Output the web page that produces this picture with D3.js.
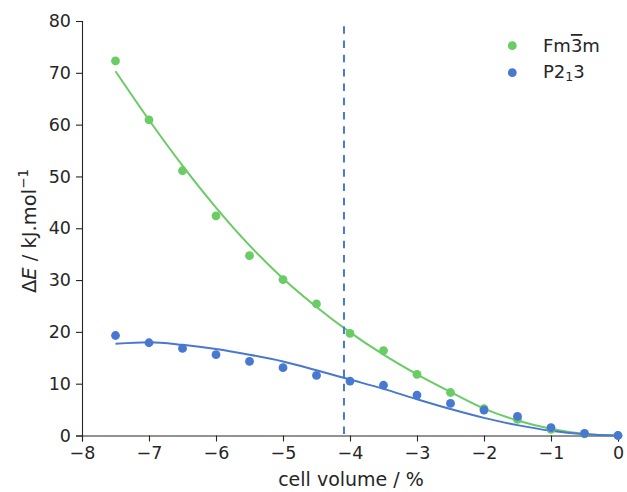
<!DOCTYPE html>
<html><head><meta charset="utf-8">
<script src="https://cdn.jsdelivr.net/npm/d3@7"></script>
<style>body{margin:0;background:#fff}svg{display:block}text{font-family:"DejaVu Sans",sans-serif;fill:#262626}</style>
</head><body><svg id="c" width="627" height="492"></svg>
<script>
const xVals = [-7.5,-7,-6.5,-6,-5.5,-5,-4.5,-4,-3.5,-3,-2.5,-2,-1.5,-1,-0.5,0];
const fmPoints = [72.3,60.9,51.1,42.4,34.7,30.1,25.4,19.7,16.4,11.8,8.3,5.2,3.1,1.2,0.3,0];
const p213Points = [19.3,17.9,16.8,15.6,14.3,13.1,11.6,10.5,9.7,7.8,6.2,4.9,3.7,1.5,0.4,0];
const fmFit = [70.3,60.9,52.1,44.0,36.7,30.3,24.8,19.9,15.6,11.8,8.4,5.2,2.9,1.3,0.3,0];
const p213Fit = [17.7,18.0,17.5,16.7,15.6,14.3,12.6,10.8,9.0,7.0,5.1,3.4,2.0,0.9,0.25,0];
const xTicks = [-8,-7,-6,-5,-4,-3,-2,-1,0];
const yTicks = [0,10,20,30,40,50,60,70,80];
const vline = -4.09, vlineTop = 79;
const colors = {fm:"#6acc64", p:"#4878d0"};

const svg = d3.select("#c");
const x = d3.scaleLinear().domain([-8,0]).range([82,618]);
const y = d3.scaleLinear().domain([0,80]).range([435.5,21]);

const fmt = d => d < 0 ? "\u2212" + Math.abs(d) : String(d);
const xa = svg.append("g").attr("transform","translate(0,435.5)")
  .call(d3.axisBottom(x).tickValues(xTicks).tickFormat(fmt).tickSizeOuter(0).tickSize(6).tickPadding(5));
const ya = svg.append("g").attr("transform","translate(82,0)")
  .call(d3.axisLeft(y).tickValues(yTicks).tickSizeOuter(0).tickSize(6).tickPadding(5));
[xa,ya].forEach(a=>{
  a.selectAll("path,line").attr("stroke","#262626").attr("stroke-width",1.1);
  a.selectAll("text").style("font-size","17.5px").style("font-family","DejaVu Sans").attr("fill","#262626");
});

const line = d3.line().x((d,i)=>x(xVals[i])).y(d=>y(d)).curve(d3.curveMonotoneX);
svg.append("path").attr("d",line(fmFit)).attr("fill","none").attr("stroke",colors.fm).attr("stroke-width",2);
svg.append("path").attr("d",line(p213Fit)).attr("fill","none").attr("stroke",colors.p).attr("stroke-width",2);

svg.append("line").attr("x1",x(vline)).attr("x2",x(vline)).attr("y1",y(vlineTop)).attr("y2",y(0))
  .attr("stroke",colors.p).attr("stroke-width",2).attr("stroke-dasharray","7.5,6.8");

svg.append("g").selectAll("circle").data(fmPoints).join("circle")
  .attr("cx",(d,i)=>x(xVals[i])).attr("cy",d=>y(d)).attr("r",4.4).attr("fill",colors.fm);
svg.append("g").selectAll("circle").data(p213Points).join("circle")
  .attr("cx",(d,i)=>x(xVals[i])).attr("cy",d=>y(d)).attr("r",4.4).attr("fill",colors.p);

// legend
svg.append("circle").attr("cx",512.3).attr("cy",45.7).attr("r",4.4).attr("fill",colors.fm);
svg.append("circle").attr("cx",512.3).attr("cy",72.7).attr("r",4.4).attr("fill",colors.p);
const l1 = svg.append("text").attr("x",543).attr("y",52).style("font-size","18px");
l1.append("tspan").text("Fm");
l1.append("tspan").text("3").style("text-decoration","overline");
l1.append("tspan").text("m");
const l2 = svg.append("text").attr("x",543).attr("y",77.5).style("font-size","18px");
l2.append("tspan").text("P2");
l2.append("tspan").text("1").attr("dy",3.5).style("font-size","12.5px");
l2.append("tspan").text("3").attr("dy",-3.5);

svg.append("text").attr("x",351).attr("y",486).attr("text-anchor","middle").style("font-size","19px").text("cell volume / %");
const yl = svg.append("text").attr("transform","translate(35.5,231) rotate(-90)").attr("text-anchor","middle").style("font-size","19.5px");
yl.append("tspan").text("\u0394");
yl.append("tspan").text("E").style("font-style","italic");
yl.append("tspan").text(" / kJ.mol");
yl.append("tspan").text("\u22121").attr("dy",-8).style("font-size","13.5px");
</script></body></html>
